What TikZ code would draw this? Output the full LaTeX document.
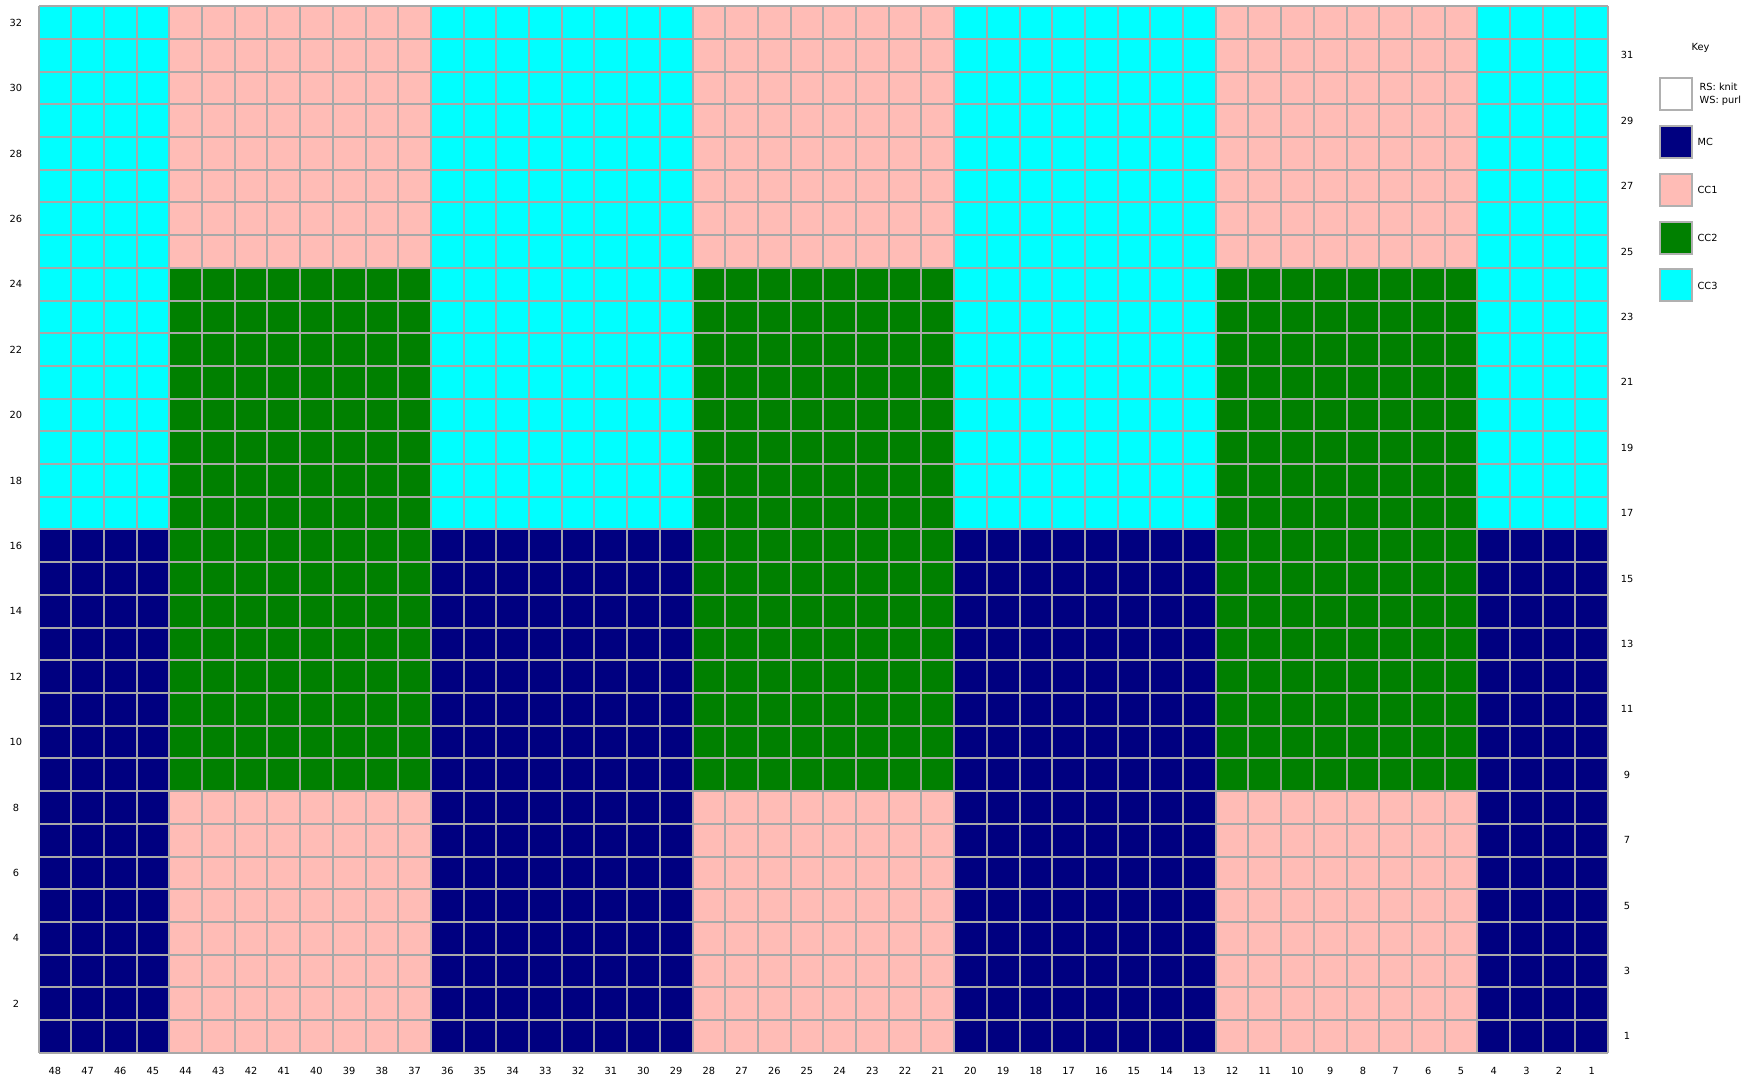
\documentclass[tikz,border=0pt]{standalone}
\usepackage{fontspec}
\setmainfont{DejaVu Sans}
\usetikzlibrary{positioning}

\definecolor{mc}{HTML}{000080}
\definecolor{ccone}{HTML}{FFBCB6}
\definecolor{cctwo}{HTML}{008000}
\definecolor{ccthree}{HTML}{00FFFF}
\definecolor{gridgray}{HTML}{A8A8A8}
\definecolor{keygray}{HTML}{B0B0B0}

\begin{document}
\begin{tikzpicture}[
    x=1pt, y=1pt,
    gridline/.style = {draw=gridgray, line width=2pt},
    num/.style      = {font=\fontsize{9.8}{13.5}\selectfont, inner sep=0pt},
    keybox/.style   = {draw=keygray, line width=2pt, minimum size=32pt,
                       inner sep=0pt},
    keylbl/.style   = {num, align=left}
]
    \useasboundingbox (0,0) rectangle (1744,1080);

    %-- Chart cells (48 stitches x 32 rows) ---------------------------------
    \begin{scope}[shift={(38.5,27.3)}, x=32.7pt, y=32.7pt]
        % each band of 8 rows: background colour, then the 8-wide stripes
        \foreach \ya/\ca/\cb in {0/ccone/mc, 8/cctwo/mc,
                                 16/cctwo/ccthree, 24/ccone/ccthree}{
            \fill[\cb] (0,\ya) rectangle (48,\ya+8);
            \foreach \xa in {4,20,36}
                \fill[\ca] (\xa,\ya) rectangle ++(8,8);
        }
        \draw[gridline, step=1] (0,0) grid (48,32);

        %-- Row numbers: even on the left, odd on the right ----------------
        \foreach \r in {2,4,...,32}
            \node[num] (row\r) at (-0.69,\r-0.5) {\r};
        \foreach \r in {1,3,...,31}
            \node[num] (row\r) at (48.58,\r-0.5) {\r};

        %-- Stitch numbers along the bottom ---------------------------------
        \foreach \c in {1,...,48}
            \node[num] (st\c) at (48.5-\c,-0.55) {\c};
    \end{scope}

    %-- Key ------------------------------------------------------------------
    \node[num] (keytitle) at (1700.6,1032) {Key};

    \node[keybox, fill=white] (knit) at (1676.4,985.7) {};
    \node[keylbl, right=6pt of knit] (knitlbl) {RS: knit\\WS: purl};

    \foreach \k/\col/\txt/\y in {mc/mc/MC/937.9, ccone/ccone/CC1/890.1,
                                  cctwo/cctwo/CC2/842.3,
                                  ccthree/ccthree/CC3/794.5}{
        \node[keybox, fill=\col] (key\k) at (1676.4,\y) {};
        \node[keylbl, right=4pt of key\k] (lbl\k) {\txt};
    }
\end{tikzpicture}
\end{document}
